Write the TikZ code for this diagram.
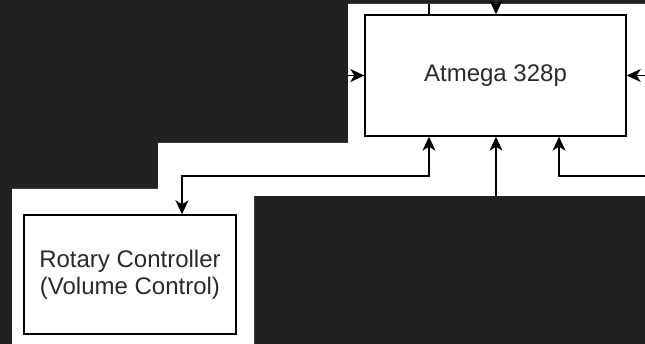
\documentclass[tikz,border=0pt]{standalone}
\usepackage{fontspec}
\setmainfont{Liberation Sans}
\usetikzlibrary{arrows.meta}
\definecolor{bg}{HTML}{212121}
\definecolor{txt}{HTML}{2A2A2A}
\begin{document}
\begin{tikzpicture}[x=1pt,y=-1pt,
  box/.style={draw=black, line width=1.4pt, fill=white, inner sep=0pt, align=center,
    font=\fontsize{24}{27}\selectfont, text=txt},
  conn/.style={line width=1.4pt, draw=black},
  tip/.style={-{Stealth[length=14pt,width=13pt,inset=4pt]}},
  both/.style={{Stealth[length=14pt,width=13pt,inset=4pt]}-{Stealth[length=14pt,width=13pt,inset=4pt]}}]
\useasboundingbox (0,0) rectangle (645,344);
\fill[bg] (0,0) rectangle (645,344);
\fill[white] (348,4) -- (645,4) -- (645,196) -- (254,196) -- (254,344) -- (12,344)
  -- (12,189) -- (158,189) -- (158,143) -- (348,143) -- cycle;
\node[box, minimum width=261pt, minimum height=121pt] (atm) at (495.5,75.5) {Atmega 328p};
\node[box, minimum width=212pt, minimum height=119pt] (rot) at (130,274.5) {Rotary Controller\\(Volume Control)};
\coordinate (t1) at (429,4);
\coordinate (t2) at (496,4);
\coordinate (l1) at (348,75.5);
\coordinate (r1) at (645,75.5);
\coordinate (b2) at (496,196);
\coordinate (r2) at (645,176);
\coordinate (ax) at (429,176);
\coordinate (bx) at (559,176);
\coordinate (j) at (182,176);
\draw[conn] (t1) -- (t1 |- atm.north);
\draw[conn,tip] (t2) -- (t2 |- atm.north);
\draw[conn,tip] (l1) -- (atm.west);
\draw[conn,tip] (r1) -- (atm.east);
\draw[conn,both] (ax |- atm.south) -- (ax) -- (j) -- (j |- rot.north);
\draw[conn,tip] (b2) -- (b2 |- atm.south);
\draw[conn,tip] (r2) -- (bx) -- (bx |- atm.south);
\end{tikzpicture}
\end{document}
